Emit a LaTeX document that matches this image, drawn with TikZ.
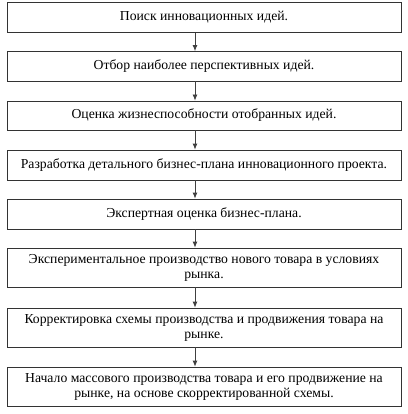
\documentclass[tikz,border=0pt]{standalone}
\usepackage{fontspec}
\setmainfont{Liberation Serif}
\usepackage{tikz}
\usetikzlibrary{arrows.meta}

\begin{document}
\begin{tikzpicture}[
    x=1pt,y=-1pt,
    stage/.style={draw=black!80,line width=.8pt,rectangle,
        minimum width=394pt,inner sep=0pt,align=center,
        font={\fontsize{13.7}{15}\selectfont}},
    flow/.style={-{Latex[length=6pt,width=5pt]},line width=.8pt,draw=black!75},
    ]
    % frame
    \useasboundingbox (0,0) rectangle (407,414);
    % Stages
    \node[stage,minimum height=29.5pt] (idea)   at (204,17.5)  {Поиск инновационных идей.};
    \node[stage,minimum height=29.5pt] (select) at (204,66.25) {Отбор наиболее перспективных идей.};
    \node[stage,minimum height=29pt]   (viab)   at (204,115.5) {Оценка жизнеспособности отобранных идей.};
    \node[stage,minimum height=30pt]   (plan)   at (204,165)   {Разработка детального бизнес-плана инновационного проекта.};
    \node[stage,minimum height=30pt]   (expert) at (204,214)   {Экспертная оценка бизнес-плана.};
    \node[stage,minimum height=39pt]   (trial)  at (204,267.5) {Экспериментальное производство нового товара в условиях\\рынка.};
    \node[stage,minimum height=39pt]   (adjust) at (204,327.5) {Корректировка схемы производства и продвижения товара на\\рынке.};
    \node[stage,minimum height=39pt]   (mass)   at (204,386.5) {Начало массового производства товара и его продвижение на\\рынке, на основе скорректированной схемы.};
    % Arrows
    \foreach \a/\b in {idea/select,select/viab,viab/plan,plan/expert,
                       expert/trial,trial/adjust,adjust/mass}
        \draw[flow] ([xshift=-9pt]\a.south) -- ([xshift=-9pt]\b.north);
\end{tikzpicture}
\end{document}
